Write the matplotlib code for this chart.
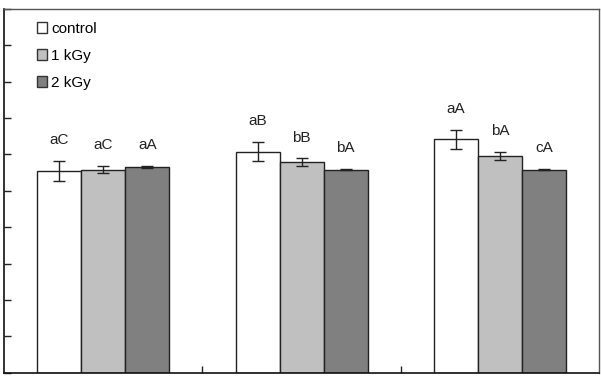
import matplotlib.pyplot as plt
from matplotlib.patches import Patch
import numpy as np

plt.rcParams['font.family'] = ['Liberation Sans', 'DejaVu Sans']

# values per treatment, one entry per group (three groups on the x axis)
series = ['control', '1 kGy', '2 kGy']
control = [5.55, 6.08, 6.42]
kgy1 = [5.58, 5.78, 5.96]
kgy2 = [5.66, 5.58, 5.58]
control_err = [0.27, 0.26, 0.26]
kgy1_err = [0.10, 0.11, 0.11]
kgy2_err = [0.02, 0.02, 0.02]
control_lbl = ['aC', 'aB', 'aA']
kgy1_lbl = ['aC', 'bB', 'bA']
kgy2_lbl = ['aA', 'bA', 'cA']

colors = ['#ffffff', '#c0c0c0', '#808080']

fig = plt.figure(figsize=(6.01, 3.83), dpi=100)
ax = fig.add_axes([4 / 601, 1 - 372.7 / 383, 595.3 / 601, 363.7 / 383])

x = np.arange(3) + 0.5
w = 0.222
data = [(control, control_err, control_lbl),
        (kgy1, kgy1_err, kgy1_lbl),
        (kgy2, kgy2_err, kgy2_lbl)]

for i, (vals, errs, lbls) in enumerate(data):
    pos = x + (i - 1) * w
    ax.bar(pos, vals, width=w, color=colors[i], edgecolor='#222222',
           linewidth=1.0, zorder=2)
    ax.errorbar(pos, vals, yerr=errs, fmt='none', ecolor='#222222',
                elinewidth=1.0, capsize=4, capthick=1.0, zorder=3)
    for p, v, e, t in zip(pos, vals, errs, lbls):
        ax.text(p, v + e + 0.57, t, ha='center', va='center', fontsize=11,
                color='#222222')

ax.set_xlim(0, 3)
ax.set_ylim(0, 10)
ax.set_yticks(np.arange(0, 11))
ax.set_xticks([1, 2])
ax.tick_params(axis='both', direction='in', length=5, width=1,
               labelleft=False, labelbottom=False, colors='#222222')
for s in ['left', 'bottom']:
    ax.spines[s].set_color('#111111')
    ax.spines[s].set_linewidth(1.2)
for s in ['top', 'right']:
    ax.spines[s].set_color('#555555')
    ax.spines[s].set_linewidth(1.0)

handles = [Patch(facecolor=c, edgecolor='#333333', linewidth=1.0) for c in colors]
ax.legend(handles, series, loc='upper left', bbox_to_anchor=(0.055, 0.965),
          frameon=False, fontsize=11, handlelength=0.7, handleheight=0.7,
          handletextpad=0.25, labelspacing=0.85, borderpad=0, borderaxespad=0)

fig.savefig('out.png', dpi=100)
